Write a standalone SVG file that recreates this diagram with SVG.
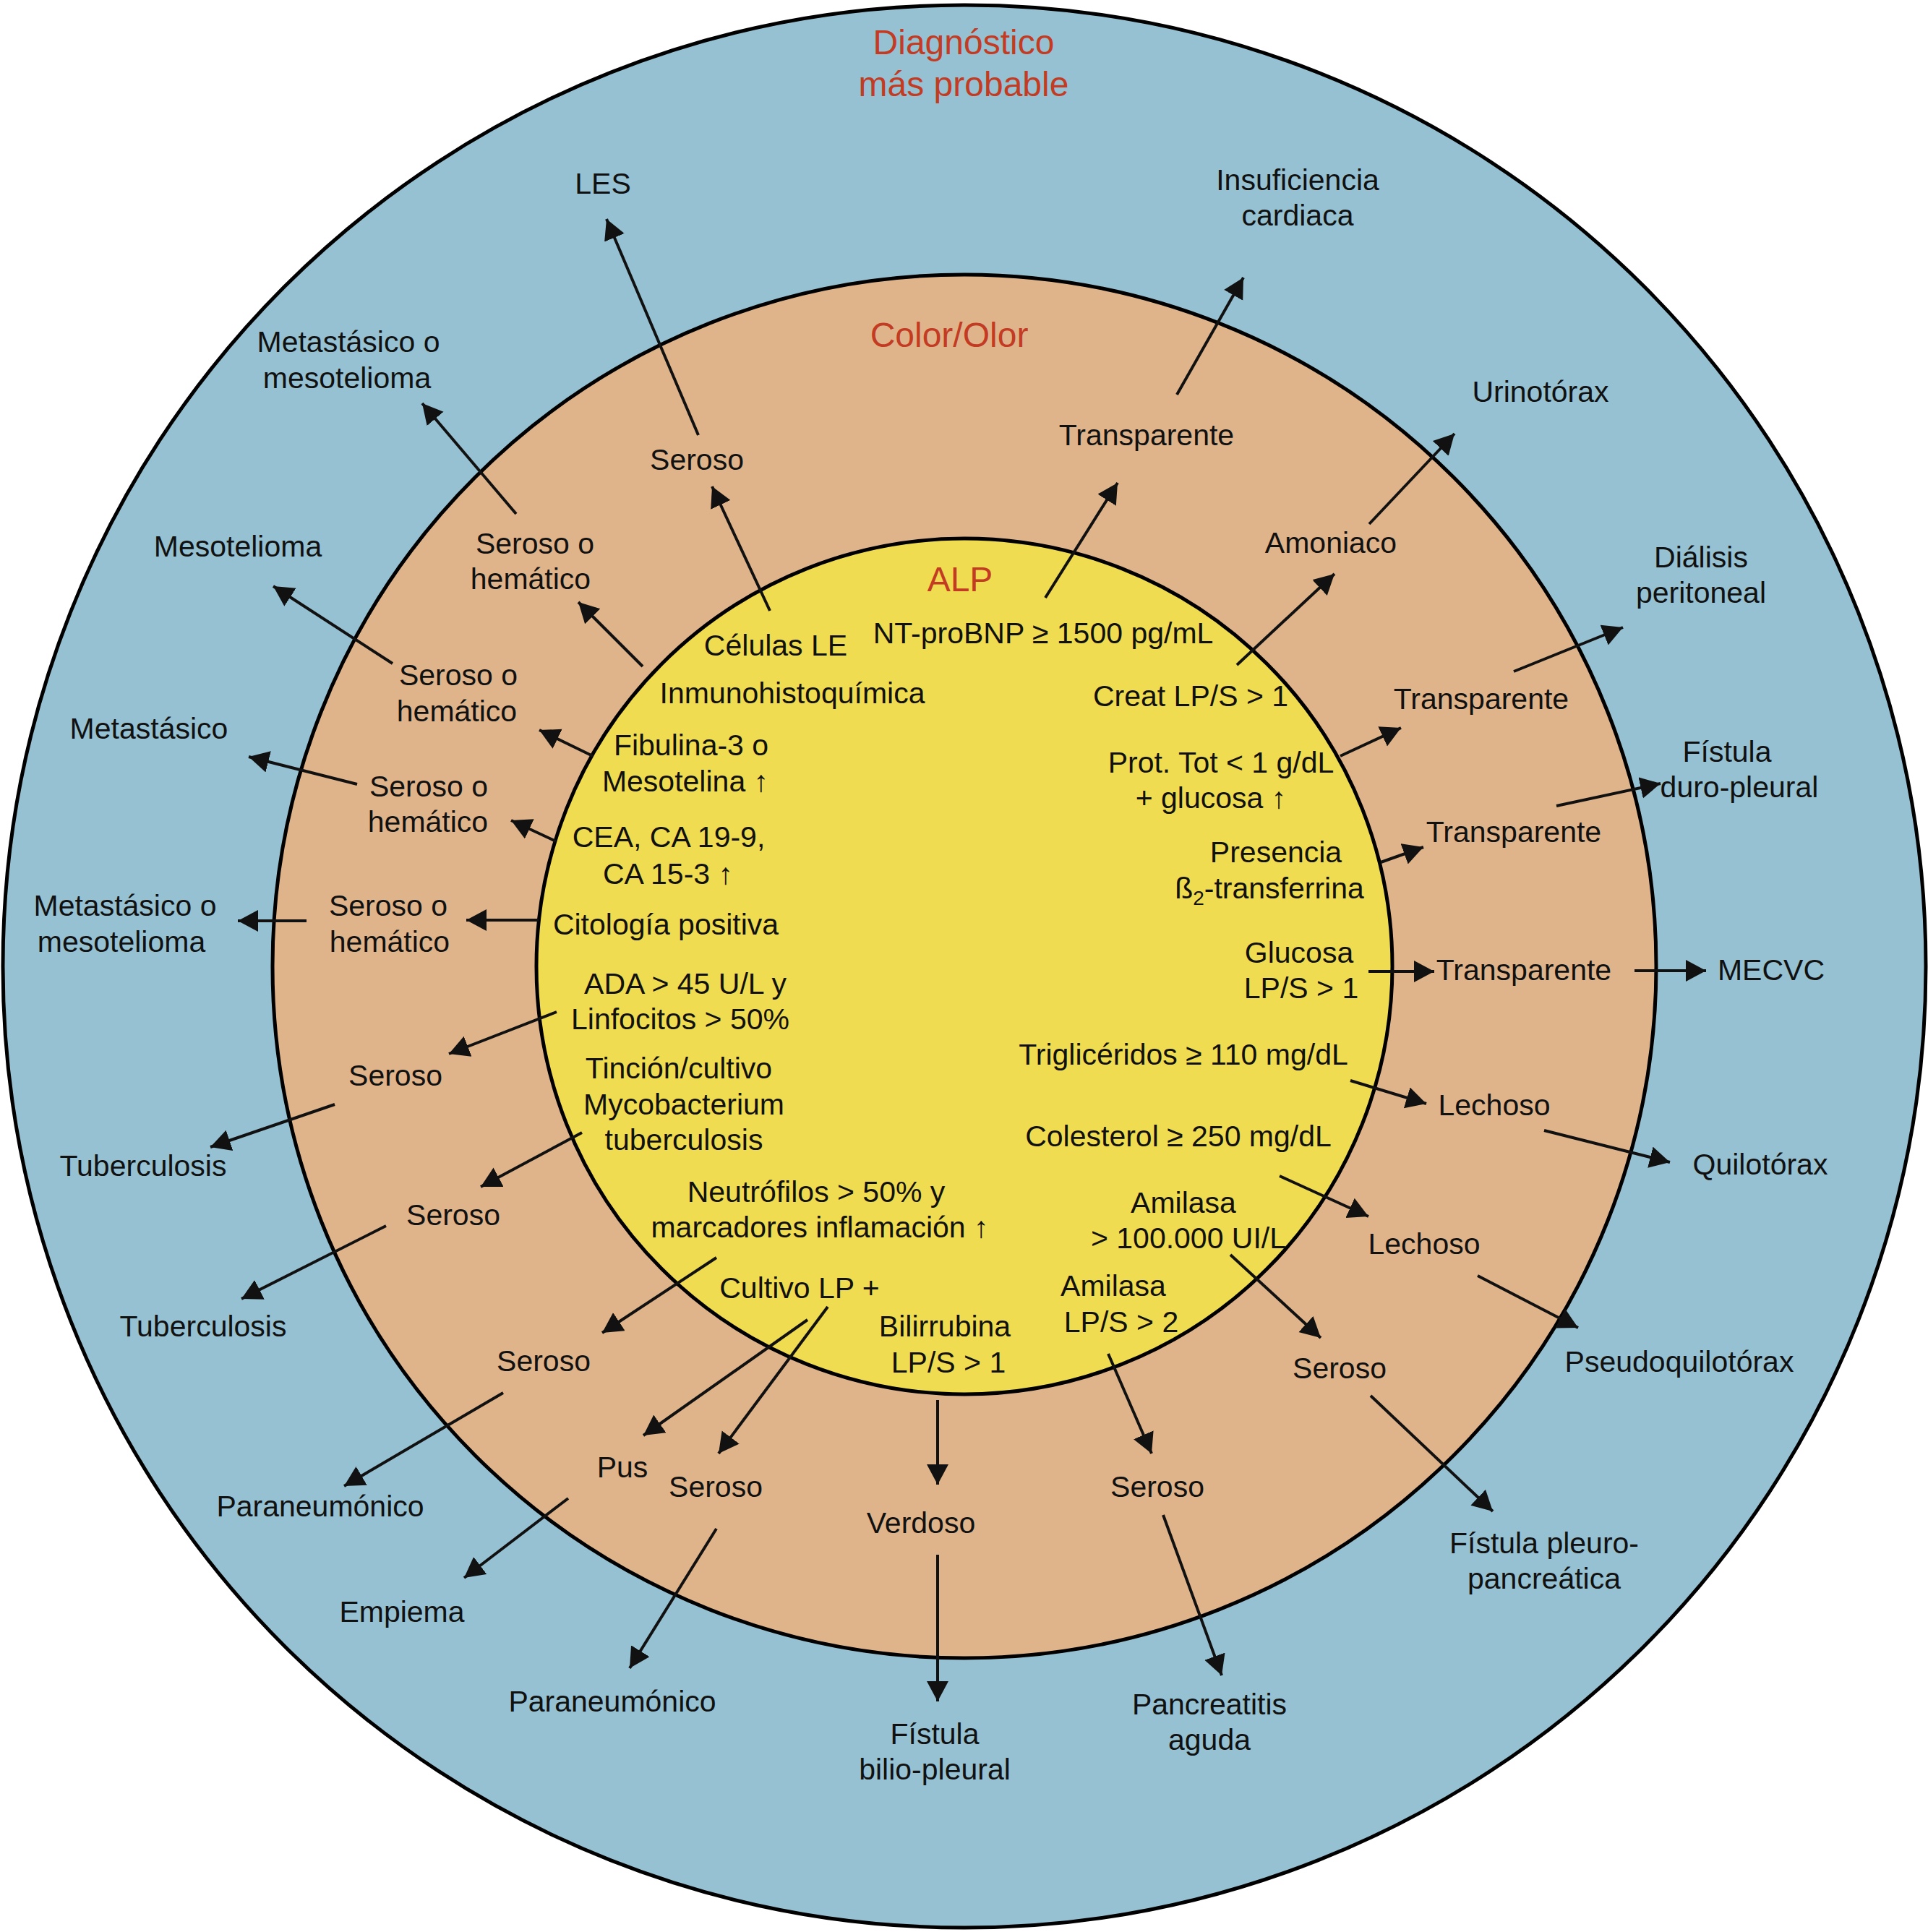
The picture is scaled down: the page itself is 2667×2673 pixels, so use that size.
<svg xmlns="http://www.w3.org/2000/svg" width="2667" height="2673" viewBox="0 0 2667 2673">
<defs>
<marker id="ah" markerUnits="userSpaceOnUse" markerWidth="30" markerHeight="32" refX="28" refY="15" orient="auto">
<path d="M0,0 L28,15 L0,30 z" fill="#111"/>
</marker>
<style>
.t{font-family:"Liberation Sans",Arial,Helvetica,sans-serif;font-size:41px;fill:#111;text-anchor:middle}
.r{font-family:"Liberation Sans",Arial,Helvetica,sans-serif;font-size:48px;fill:#C23B22;text-anchor:middle}
.c line{stroke:#111;stroke-width:4;marker-end:url(#ah)}
</style>
</defs>
<rect width="2667" height="2673" fill="#fff"/>
<g id="rings">
<circle cx="1334" cy="1337" r="1330" fill="#95C1D2" stroke="#000" stroke-width="5"/>
<circle cx="1334" cy="1337" r="957" fill="#E0B48B" stroke="#000" stroke-width="5"/>
<circle cx="1334" cy="1337" r="592" fill="#F0DC50" stroke="#000" stroke-width="5"/>
</g>
<g id="titles">
<text class="r" x="1333" y="75">Diagnóstico</text>
<text class="r" x="1333" y="133">más probable</text>
<text class="r" x="1313" y="480">Color/Olor</text>
<text class="r" x="1328" y="818">ALP</text>
</g>
<g id="connectors" class="c">
<line x1="1065" y1="845" x2="985" y2="673"/>
<line x1="966" y1="602" x2="839" y2="303"/>
<line x1="1446" y1="827" x2="1546" y2="668"/>
<line x1="1628" y1="546" x2="1720" y2="384"/>
<line x1="1711" y1="920" x2="1846" y2="794"/>
<line x1="1894" y1="725" x2="2012" y2="600"/>
<line x1="889" y1="922" x2="800" y2="833"/>
<line x1="714" y1="711" x2="584" y2="558"/>
<line x1="820" y1="1046" x2="746" y2="1010"/>
<line x1="543" y1="918" x2="378" y2="811"/>
<line x1="1854" y1="1046" x2="1938" y2="1007"/>
<line x1="2094" y1="929" x2="2245" y2="868"/>
<line x1="769" y1="1164" x2="707" y2="1135"/>
<line x1="494" y1="1085" x2="344" y2="1047"/>
<line x1="1910" y1="1193" x2="1969" y2="1172"/>
<line x1="2153" y1="1115" x2="2297" y2="1084"/>
<line x1="745" y1="1273" x2="645" y2="1273"/>
<line x1="424" y1="1274" x2="329" y2="1274"/>
<line x1="1893" y1="1344" x2="1984" y2="1344"/>
<line x1="2261" y1="1343" x2="2360" y2="1343"/>
<line x1="770" y1="1400" x2="621" y2="1458"/>
<line x1="463" y1="1528" x2="291" y2="1587"/>
<line x1="1868" y1="1495" x2="1973" y2="1527"/>
<line x1="2136" y1="1564" x2="2310" y2="1608"/>
<line x1="805" y1="1567" x2="665" y2="1642"/>
<line x1="534" y1="1696" x2="334" y2="1797"/>
<line x1="1770" y1="1627" x2="1893" y2="1683"/>
<line x1="2044" y1="1765" x2="2183" y2="1837"/>
<line x1="1702" y1="1736" x2="1827" y2="1851"/>
<line x1="1896" y1="1931" x2="2065" y2="2091"/>
<line x1="991" y1="1740" x2="833" y2="1844"/>
<line x1="696" y1="1927" x2="476" y2="2056"/>
<line x1="1117" y1="1826" x2="890" y2="1986"/>
<line x1="1145" y1="1808" x2="994" y2="2011"/>
<line x1="786" y1="2073" x2="642" y2="2183"/>
<line x1="991" y1="2115" x2="871" y2="2308"/>
<line x1="1297" y1="1937" x2="1297" y2="2054"/>
<line x1="1297" y1="2151" x2="1297" y2="2354"/>
<line x1="1533" y1="1873" x2="1593" y2="2011"/>
<line x1="1609" y1="2096" x2="1690" y2="2318"/>
</g>
<g id="outer-labels" class="t">
<g id="n-les"><text x="834" y="268">LES</text></g>
<g id="n-ic"><text x="1795" y="263">Insuficiencia</text><text x="1795" y="312">cardiaca</text></g>
<g id="n-mm1"><text x="482" y="487">Metastásico o</text><text x="480" y="537">mesotelioma</text></g>
<g id="n-uri"><text x="2131" y="556">Urinotórax</text></g>
<g id="n-meso"><text x="329" y="770">Mesotelioma</text></g>
<g id="n-dial"><text x="2353" y="785">Diálisis</text><text x="2353" y="834">peritoneal</text></g>
<g id="n-meta"><text x="206" y="1022">Metastásico</text></g>
<g id="n-fdp"><text x="2389" y="1054">Fístula</text><text x="2406" y="1103">duro-pleural</text></g>
<g id="n-mm2"><text x="173" y="1267">Metastásico o</text><text x="168" y="1317">mesotelioma</text></g>
<g id="n-mecvc"><text x="2450" y="1356">MECVC</text></g>
<g id="n-tb1"><text x="198" y="1627">Tuberculosis</text></g>
<g id="n-quilo"><text x="2435" y="1625">Quilotórax</text></g>
<g id="n-tb2"><text x="281" y="1849">Tuberculosis</text></g>
<g id="n-pseudo"><text x="2323" y="1898">Pseudoquilotórax</text></g>
<g id="n-para1"><text x="443" y="2098">Paraneumónico</text></g>
<g id="n-fpp"><text x="2136" y="2149">Fístula pleuro-</text><text x="2136" y="2198">pancreática</text></g>
<g id="n-emp"><text x="556" y="2244">Empiema</text></g>
<g id="n-para2"><text x="847" y="2368">Paraneumónico</text></g>
<g id="n-fbp"><text x="1293" y="2413">Fístula</text><text x="1293" y="2462">bilio-pleural</text></g>
<g id="n-panc"><text x="1673" y="2372">Pancreatitis</text><text x="1673" y="2421">aguda</text></g>
</g>
<g id="middle-labels" class="t">
<g id="m-ser1"><text x="964" y="650">Seroso</text></g>
<g id="m-tr1"><text x="1586" y="616">Transparente</text></g>
<g id="m-sh1"><text x="740" y="766">Seroso o</text><text x="734" y="815">hemático</text></g>
<g id="m-amon"><text x="1841" y="765">Amoniaco</text></g>
<g id="m-sh2"><text x="634" y="948">Seroso o</text><text x="632" y="998">hemático</text></g>
<g id="m-tr2"><text x="2049" y="981">Transparente</text></g>
<g id="m-sh3"><text x="593" y="1102">Seroso o</text><text x="592" y="1151">hemático</text></g>
<g id="m-tr3"><text x="2094" y="1165">Transparente</text></g>
<g id="m-sh4"><text x="537" y="1267">Seroso o</text><text x="539" y="1317">hemático</text></g>
<g id="m-tr4"><text x="2108" y="1356">Transparente</text></g>
<g id="m-ser2"><text x="547" y="1502">Seroso</text></g>
<g id="m-lech1"><text x="2067" y="1543">Lechoso</text></g>
<g id="m-ser3"><text x="627" y="1695">Seroso</text></g>
<g id="m-lech2"><text x="1970" y="1735">Lechoso</text></g>
<g id="m-ser4"><text x="752" y="1897">Seroso</text></g>
<g id="m-ser5"><text x="1853" y="1907">Seroso</text></g>
<g id="m-pus"><text x="861" y="2044">Pus</text></g>
<g id="m-ser6"><text x="990" y="2071">Seroso</text></g>
<g id="m-verd"><text x="1274" y="2121">Verdoso</text></g>
<g id="m-ser7"><text x="1601" y="2071">Seroso</text></g>
</g>
<g id="inner-labels" class="t">
<g id="i-bnp"><text x="1443" y="890">NT-proBNP ≥ 1500 pg/mL</text></g>
<g id="i-le"><text x="1073" y="907">Células LE</text></g>
<g id="i-ihq"><text x="1096" y="973">Inmunohistoquímica</text></g>
<g id="i-creat"><text x="1647" y="977">Creat LP/S &gt; 1</text></g>
<g id="i-fib"><text x="956" y="1045">Fibulina-3 o</text><text x="948" y="1095">Mesotelina ↑</text></g>
<g id="i-prot"><text x="1689" y="1069">Prot. Tot &lt; 1 g/dL</text><text x="1675" y="1118">+ glucosa ↑</text></g>
<g id="i-cea"><text x="925" y="1172">CEA, CA 19-9,</text><text x="924" y="1223">CA 15-3 ↑</text></g>
<g id="i-b2"><text x="1765" y="1193">Presencia</text><text x="1756" y="1243">ß<tspan font-size="28" dy="9">2</tspan><tspan dy="-9">-transferrina</tspan></text></g>
<g id="i-cito"><text x="921" y="1293">Citología positiva</text></g>
<g id="i-gluc"><text x="1797" y="1332">Glucosa</text><text x="1800" y="1381">LP/S &gt; 1</text></g>
<g id="i-ada"><text x="948" y="1375">ADA &gt; 45 U/L y</text><text x="941" y="1424">Linfocitos &gt; 50%</text></g>
<g id="i-tinc"><text x="939" y="1492">Tinción/cultivo</text><text x="946" y="1542">Mycobacterium</text><text x="946" y="1591">tuberculosis</text></g>
<g id="i-trig"><text x="1637" y="1473">Triglicéridos ≥ 110 mg/dL</text></g>
<g id="i-col"><text x="1630" y="1586">Colesterol ≥ 250 mg/dL</text></g>
<g id="i-neut"><text x="1129" y="1663">Neutrófilos &gt; 50% y</text><text x="1134" y="1712">marcadores inflamación ↑</text></g>
<g id="i-amil1"><text x="1637" y="1678">Amilasa</text><text x="1644" y="1727">&gt; 100.000 UI/L</text></g>
<g id="i-cult"><text x="1106" y="1796">Cultivo LP +</text></g>
<g id="i-amil2"><text x="1540" y="1793">Amilasa</text><text x="1551" y="1843">LP/S &gt; 2</text></g>
<g id="i-bili"><text x="1307" y="1849">Bilirrubina</text><text x="1312" y="1899">LP/S &gt; 1</text></g>
</g>
</svg>
